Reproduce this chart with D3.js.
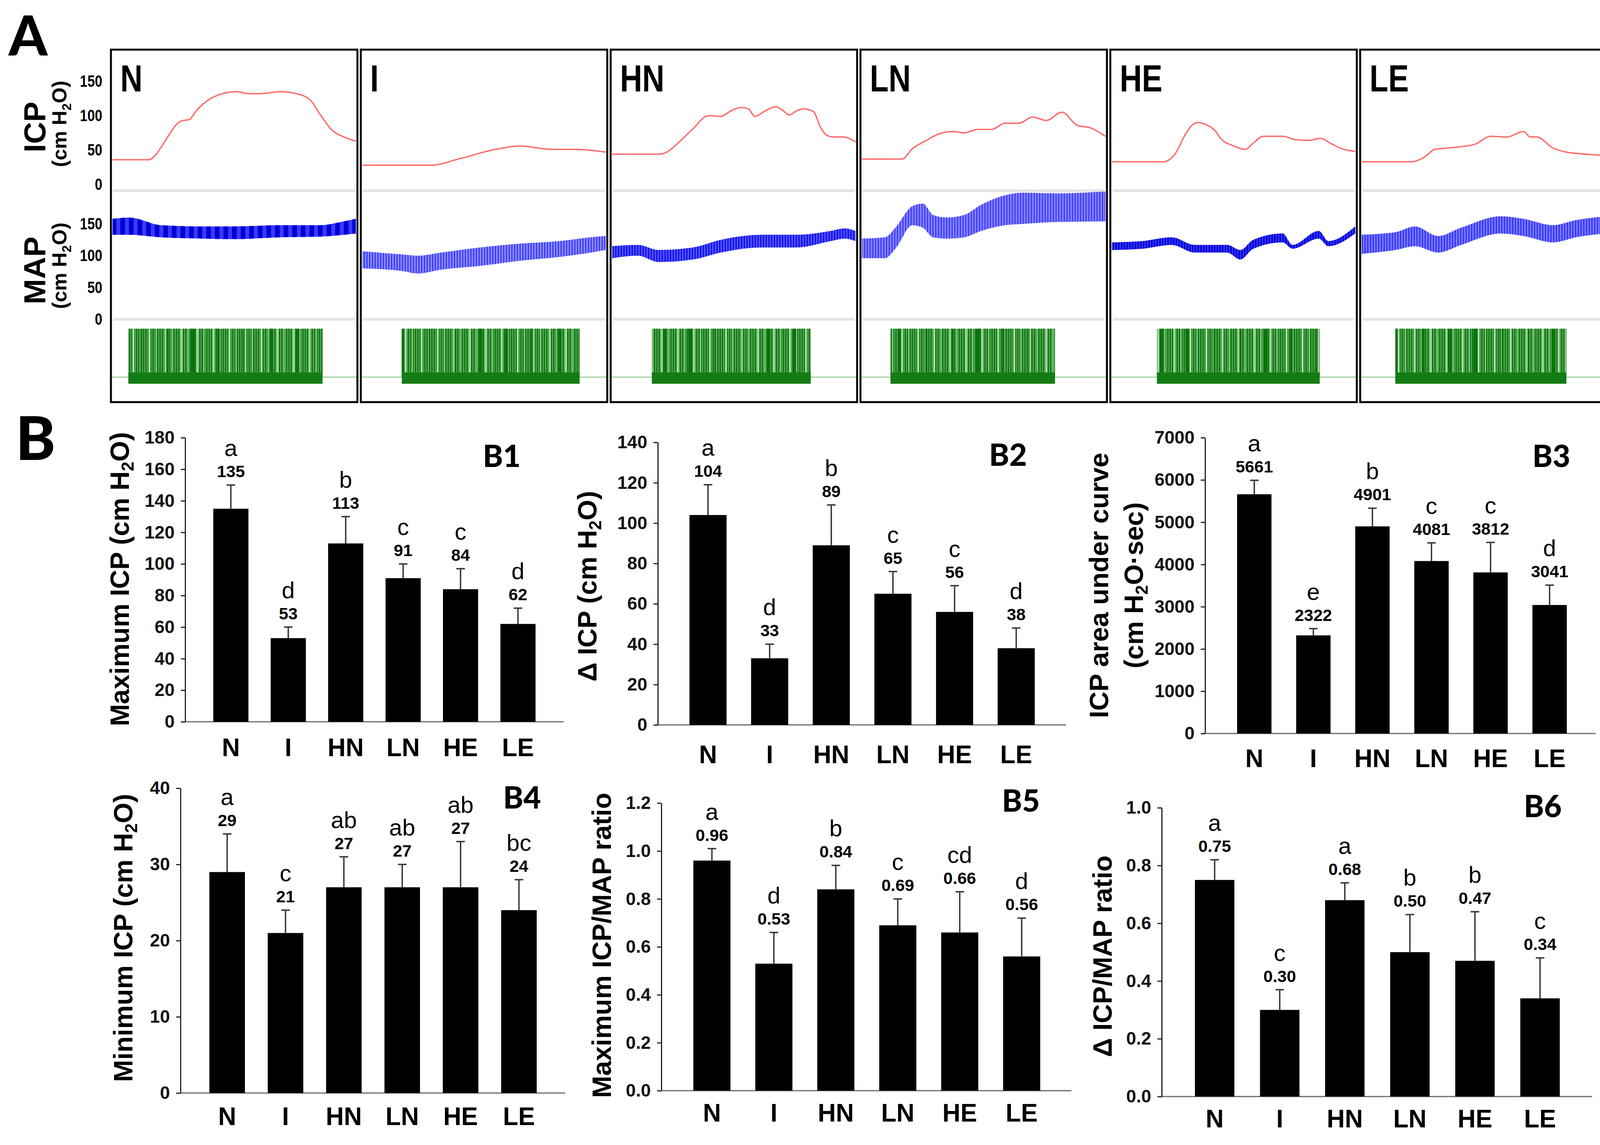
<!DOCTYPE html>
<html>
<head>
<meta charset="utf-8">
<script src="https://cdn.jsdelivr.net/npm/d3@7"></script>
<style>
  body { margin: 0; background: #fff; overflow: hidden; }
  svg { display: block; }
</style>
</head>
<body>
<script>
// ---------- data ----------
var groups = ['N', 'I', 'HN', 'LN', 'HE', 'LE'];

// panel A traces: [time % of window, value cm H2O]
var icpN = [[0,36],[15,36],[17.5,42],[21.6,63],[26.5,88],[28.9,93],[31.4,94],[34.6,108],[39.5,123],[46.1,133],[51,135],[55.9,132],[60.8,132],[69,135],[75.5,132],[81.2,123],[85.3,102],[90.2,79],[95.1,69],[100,63]];
var icpI = [[0,28],[28.3,28],[40.5,38],[53.4,50],[64.7,56],[77.7,51],[87.4,51],[100,47]];
var icpHN = [[0,44],[19.1,44],[21.9,46],[27.6,62],[33.2,81],[39.6,100],[44.6,99],[48.8,107],[53,112],[55.9,110],[58.7,99],[62.9,107],[67.2,113],[70,108],[72.8,101],[75.7,107],[78.5,110],[82.7,106],[85.6,83],[88.4,71],[91.2,69],[94.8,69],[100,62]];
var icpLN = [[0,37],[16.5,37],[20.7,52],[26.4,64],[32,74],[37.7,77],[41.9,75],[47.5,80],[53.2,80],[58.8,89],[64.5,89],[70.1,98],[75.7,93],[82.1,105],[88.4,86],[94.1,82],[100,70]];
var icpHE = [[0,33],[21.2,33],[25.9,44],[29.9,71],[32.6,85],[35.3,90],[39.3,86],[42.7,77],[44.7,67],[50.1,56],[54.8,51],[58.1,60],[62.1,70],[70.2,70],[75.6,65],[80.9,64],[85.6,67],[90.3,59],[94.4,52],[100,48]];
var icpLE = [[0,33],[20.5,33],[25.9,40],[30,51],[35.4,53],[46.2,58],[53,70],[59.7,69],[66.5,77],[69.2,69],[71.9,69],[78.6,53],[84.1,47],[92.2,44],[100,42]];

// MAP band: [time %, upper, lower]
var mapN = [[0,158,133],[6.9,160,133],[19.9,148,129],[36.3,146,127],[49.3,146,126],[69,148,129],[85.3,148,130],[95.1,154,133],[100,158,135]];
var mapI = [[0,107,80],[16.2,102,76],[22.7,100,72],[32.4,105,78],[48.5,113,84],[64.7,119,92],[80.9,123,98],[93.9,129,105],[100,131,109]];
var mapHN = [[0,115,96],[10.6,117,100],[19.1,109,90],[33.2,113,94],[44.6,125,105],[61.5,133,113],[75.7,133,113],[89.8,139,123],[95.5,143,127],[100,139,123]];
var mapLN = [[0,127,96],[9.4,129,96],[13.7,144,111],[20.7,178,148],[25,182,144],[29.2,164,129],[34.8,160,127],[41.9,164,129],[48.9,180,139],[58.8,195,148],[65.9,199,150],[80,198,153],[100,201,154]];
var mapHE = [[0,121,109],[12.5,123,111],[24.6,129,117],[34,117,105],[47.4,117,105],[52.8,109,94],[58.1,125,111],[70.2,135,121],[74.2,117,111],[85,139,127],[89,123,115],[100,146,135]];
var mapLE = [[0,133,103],[13.8,137,109],[21.9,146,115],[31.4,131,105],[40.8,144,117],[57,162,135],[66.5,158,131],[78.6,148,121],[88.1,156,129],[100,162,135]];

// stimulation window (time %)
var stimStart = [6.5, 16.2, 16.3, 11.7, 18.5, 13.8];
var stimEnd = [86.3, 89.3, 81.6, 79.3, 85.4, 84.1];

var icpTicks = [0, 50, 100, 150];
var mapTicks = [0, 50, 100, 150];

// panel B
var maxIcp = [135, 53, 113, 91, 84, 62];
var maxIcpErr = [15, 7, 17, 9, 13, 10];
var maxIcpSig = ['a', 'd', 'b', 'c', 'c', 'd'];

var deltaIcp = [104, 33, 89, 65, 56, 38];
var deltaIcpErr = [15, 7, 20, 11, 13, 10];
var deltaIcpSig = ['a', 'd', 'b', 'c', 'c', 'd'];

var aucIcp = [5661, 2322, 4901, 4081, 3812, 3041];
var aucIcpErr = [330, 160, 430, 430, 710, 470];
var aucIcpSig = ['a', 'e', 'b', 'c', 'c', 'd'];

var minIcp = [29, 21, 27, 27, 27, 24];
var minIcpErr = [5, 3, 4, 3, 6, 4];
var minIcpSig = ['a', 'c', 'ab', 'ab', 'ab', 'bc'];

var maxRatio = [0.96, 0.53, 0.84, 0.69, 0.66, 0.56];
var maxRatioErr = [0.05, 0.13, 0.10, 0.11, 0.17, 0.16];
var maxRatioSig = ['a', 'd', 'b', 'c', 'cd', 'd'];

var deltaRatio = [0.75, 0.30, 0.68, 0.50, 0.47, 0.34];
var deltaRatioErr = [0.07, 0.07, 0.06, 0.13, 0.17, 0.14];
var deltaRatioSig = ['a', 'c', 'a', 'b', 'b', 'c'];

var b1Ticks = [0, 20, 40, 60, 80, 100, 120, 140, 160, 180];
var b2Ticks = [0, 20, 40, 60, 80, 100, 120, 140];
var b3Ticks = [0, 1000, 2000, 3000, 4000, 5000, 6000, 7000];
var b4Ticks = [0, 10, 20, 30, 40];
var b5Ticks = [0, 0.2, 0.4, 0.6, 0.8, 1.0, 1.2];
var b6Ticks = [0, 0.2, 0.4, 0.6, 0.8, 1.0];

// ---------- drawing ----------
var W = 4141, H = 2930;
var sans = 'Liberation Sans, Arial, sans-serif';
var tagFont = 'Lato, Open Sans, sans-serif';

var svg = d3.select('body').append('svg')
    .attr('width', W)
    .attr('height', H)
    .style('font-family', sans);

var defs = svg.append('defs');

var icpTraces = [icpN, icpI, icpHN, icpLN, icpHE, icpLE];
var mapTraces = [mapN, mapI, mapHN, mapLN, mapHE, mapLE];
var mapFill = ['#3a3aff', '#8c8cff', '#5252ff', '#8484ff', '#3030f0', '#7a7aff'];
var mapLine = ['#0000d6', '#3535ff', '#0c0ce8', '#3a3aff', '#0000d0', '#2f2fff'];

// hatch patterns giving the pulsatile look of the pressure traces
mapLine.forEach(function(c, i) {
    var p = defs.append('pattern')
        .attr('id', 'hatch' + i)
        .attr('patternUnits', 'userSpaceOnUse')
        .attr('width', i == 0 ? 22 : 7)
        .attr('height', 20);
    p.append('rect')
        .attr('width', i == 0 ? 12 : 3)
        .attr('height', 20)
        .attr('fill', c);
});

// stimulation spikes: fine stripes plus a couple of coarser ones for the uneven density
var stimPat = defs.append('pattern')
    .attr('id', 'stim')
    .attr('patternUnits', 'userSpaceOnUse')
    .attr('width', 6)
    .attr('height', 10);
stimPat.append('rect').attr('width', 6).attr('height', 10).attr('fill', '#5fae5f');
stimPat.append('rect').attr('width', 3.5).attr('height', 10).attr('fill', '#0d7a0d');
var gapPat = defs.append('pattern')
    .attr('id', 'stimGap')
    .attr('patternUnits', 'userSpaceOnUse')
    .attr('width', 41)
    .attr('height', 10);
gapPat.append('rect').attr('x', 11).attr('width', 5).attr('height', 10).attr('fill', '#ffffff').attr('opacity', 0.6);
gapPat.append('rect').attr('x', 29).attr('width', 3).attr('height', 10).attr('fill', '#ffffff').attr('opacity', 0.45);
var darkPat = defs.append('pattern')
    .attr('id', 'stimDark')
    .attr('patternUnits', 'userSpaceOnUse')
    .attr('width', 67)
    .attr('height', 10);
darkPat.append('rect').attr('x', 20).attr('width', 9).attr('height', 10).attr('fill', '#0a740a');

// big panel letters
svg.append('text').attr('x', 22).attr('y', 142)
    .style('font-family', tagFont).style('font-weight', 900).style('font-size', '142px')
    .text('A');
svg.append('text').attr('x', 40).attr('y', 1177)
    .style('font-family', tagFont).style('font-weight', 900).style('font-size', '154px')
    .text('B');

// ---- panel A ----
var aLeft0 = 284, aStep = 639.6, aW = 631, aTop = 127, aBottom = 1029;
var yIcp = d3.scaleLinear().domain([0, 150]).range([472, 208]);
var yMap = d3.scaleLinear().domain([0, 150]).range([817, 573]);
var stimTop = 841, stimBase = 965, stimLow = 982;

groups.forEach(function(name, i) {
    var left = aLeft0 + i * aStep;
    var xt = d3.scaleLinear().domain([0, 100]).range([left + 4, left + aW - 4]);
    var g = svg.append('g');

    defs.append('clipPath').attr('id', 'clipA' + i)
        .append('rect').attr('x', left).attr('y', aTop).attr('width', aW).attr('height', aBottom - aTop);
    var inner = g.append('g').attr('clip-path', 'url(#clipA' + i + ')');

    // grey zero lines
    [yIcp(0) + 16, yMap(0)].forEach(function(yy) {
        inner.append('line')
            .attr('x1', left + 6).attr('x2', left + aW - 6)
            .attr('y1', yy).attr('y2', yy)
            .attr('stroke', '#e4e4e4').attr('stroke-width', 7);
    });

    // ICP
    inner.append('path')
        .datum(icpTraces[i])
        .attr('d', d3.line().x(function(d) { return xt(d[0]); }).y(function(d) { return yIcp(d[1]); }).curve(d3.curveMonotoneX))
        .attr('fill', 'none')
        .attr('stroke', '#ff6a6a')
        .attr('stroke-width', 3.5);

    // MAP band
    var band = d3.area()
        .x(function(d) { return xt(d[0]); })
        .y0(function(d) { return yMap(d[2]); })
        .y1(function(d) { return yMap(d[1]); })
        .curve(d3.curveMonotoneX);
    inner.append('path').datum(mapTraces[i]).attr('d', band).attr('fill', mapFill[i]);
    inner.append('path').datum(mapTraces[i]).attr('d', band).attr('fill', 'url(#hatch' + i + ')');

    // stimulation
    var sx = xt(stimStart[i]), sw = xt(stimEnd[i]) - xt(stimStart[i]);
    inner.append('line')
        .attr('x1', left).attr('x2', left + aW)
        .attr('y1', stimBase).attr('y2', stimBase)
        .attr('stroke', '#9ad39a').attr('stroke-width', 3);
    ['url(#stim)', 'url(#stimDark)', 'url(#stimGap)'].forEach(function(f) {
        inner.append('rect')
            .attr('x', sx).attr('y', stimTop)
            .attr('width', sw).attr('height', stimBase - stimTop)
            .attr('fill', f);
    });
    inner.append('rect')
        .attr('x', sx).attr('y', stimBase - 12)
        .attr('width', sw)
        .attr('height', stimLow - stimBase + 12)
        .attr('fill', '#147c14');

    // frame
    g.append('rect')
        .attr('x', left).attr('y', aTop)
        .attr('width', aW).attr('height', aBottom - aTop)
        .attr('fill', 'none').attr('stroke', '#000').attr('stroke-width', 5);

    g.append('text')
        .attr('transform', 'translate(' + (left + 24) + ',234) scale(0.82,1)')
        .style('font-weight', 'bold').style('font-size', '96px')
        .text(name);
});

// panel A y axes
function aAxis(scale, ticks) {
    var ax = svg.append('g')
        .attr('transform', 'translate(262,0)')
        .call(d3.axisLeft(scale).tickValues(ticks).tickSize(0).tickPadding(0));
    ax.select('.domain').remove();
    ax.selectAll('text')
        .attr('transform', 'scale(0.82,1)')
        .style('font-family', sans)
        .style('font-weight', 'bold')
        .style('font-size', '42px');
}
aAxis(yIcp, icpTicks);
aAxis(yMap, mapTicks);

function h2oLabel(sel, pre, post) {
    sel.append('tspan').text(pre + 'H');
    sel.append('tspan').attr('dy', 12).style('font-size', '0.65em').text('2');
    sel.append('tspan').attr('dy', -12).text('O' + post);
}

[['ICP', 325, 317], ['MAP', 692, 680]].forEach(function(r) {
    svg.append('text')
        .attr('transform', 'translate(116,' + r[1] + ') rotate(-90)')
        .attr('text-anchor', 'middle')
        .style('font-weight', 'bold').style('font-size', '78px')
        .text(r[0]);
    var t = svg.append('text')
        .attr('transform', 'translate(170,' + r[2] + ') rotate(-90)')
        .attr('text-anchor', 'middle')
        .style('font-weight', 'bold').style('font-size', '52px');
    h2oLabel(t, '(cm ', ')');
});

// ---- panel B ----
function barChart(cfg) {
    var g = svg.append('g');
    var gap = cfg.step - cfg.barW;
    var x = d3.scaleBand()
        .domain(groups)
        .range([cfg.barX0 - gap / 2, cfg.barX0 - gap / 2 + groups.length * cfg.step])
        .paddingInner(gap / cfg.step)
        .paddingOuter(gap / cfg.step / 2);
    var y = d3.scaleLinear()
        .domain([0, cfg.ticks[cfg.ticks.length - 1]])
        .range([cfg.yZero, cfg.yTop]);

    var rows = groups.map(function(k, i) {
        return { name: k, v: cfg.values[i], e: cfg.errs[i], sig: cfg.sig[i] };
    });
    var mid = function(d) { return x(d.name) + x.bandwidth() / 2; };

    // x axis line
    g.append('line')
        .attr('x1', cfg.axisX).attr('x2', cfg.axisEnd)
        .attr('y1', cfg.yZero).attr('y2', cfg.yZero)
        .attr('stroke', '#6a6a6a').attr('stroke-width', 3);

    var ax = g.append('g')
        .attr('transform', 'translate(' + cfg.axisX + ',0)')
        .call(d3.axisLeft(y).tickValues(cfg.ticks).tickFormat(cfg.fmt).tickSize(11).tickSizeOuter(0).tickPadding(16));
    ax.selectAll('line, path').attr('stroke', '#222').attr('stroke-width', 3);
    ax.selectAll('text')
        .style('font-family', sans)
        .style('font-weight', 'bold')
        .style('font-size', '46px')
        .attr('fill', '#111');

    g.selectAll('.bar').data(rows).enter().append('rect')
        .attr('x', function(d) { return x(d.name); })
        .attr('width', x.bandwidth())
        .attr('y', function(d) { return y(d.v); })
        .attr('height', function(d) { return y(0) - y(d.v); })
        .attr('fill', '#000');

    // error bars (upper only)
    g.selectAll('.err').data(rows).enter().append('line')
        .attr('x1', mid).attr('x2', mid)
        .attr('y1', function(d) { return y(d.v); })
        .attr('y2', function(d) { return y(d.v + d.e); })
        .attr('stroke', '#333').attr('stroke-width', 3.5);
    g.selectAll('.cap').data(rows).enter().append('line')
        .attr('x1', function(d) { return mid(d) - 11; })
        .attr('x2', function(d) { return mid(d) + 11; })
        .attr('y1', function(d) { return y(d.v + d.e); })
        .attr('y2', function(d) { return y(d.v + d.e); })
        .attr('stroke', '#333').attr('stroke-width', 3.5);

    g.selectAll('.val').data(rows).enter().append('text')
        .attr('x', mid)
        .attr('y', function(d) { return y(d.v + d.e) - 20; })
        .attr('text-anchor', 'middle')
        .style('font-weight', 'bold').style('font-size', '43px')
        .text(function(d) { return cfg.valFmt(d.v); });
    g.selectAll('.sig').data(rows).enter().append('text')
        .attr('x', mid)
        .attr('y', function(d) { return y(d.v + d.e) - 74; })
        .attr('text-anchor', 'middle')
        .style('font-size', '60px')
        .text(function(d) { return d.sig; });

    g.selectAll('.cat').data(rows).enter().append('text')
        .attr('x', mid)
        .attr('y', cfg.labelY)
        .attr('text-anchor', 'middle')
        .style('font-weight', 'bold').style('font-size', '64px')
        .text(function(d) { return d.name; });

    // y title (one or two lines)
    cfg.title.forEach(function(line, k) {
        var t = g.append('text')
            .attr('transform', 'translate(' + cfg.titleX[k] + ',' + cfg.titleY + ') rotate(-90)')
            .attr('text-anchor', 'middle')
            .style('font-weight', 'bold').style('font-size', '68px');
        if (line.length == 3) h2oLabel(t, line[0], line[2]);
        else t.text(line[0]);
    });

    g.append('text')
        .attr('x', cfg.tagX).attr('y', cfg.tagY)
        .style('font-family', tagFont).style('font-weight', 900).style('font-size', '78px')
        .text(cfg.tag);
}

var int = d3.format('d');
var one = d3.format('.1f');
var two = d3.format('.2f');

barChart({ tag: 'B1', tagX: 1236, tagY: 1195, values: maxIcp, errs: maxIcpErr, sig: maxIcpSig,
    ticks: b1Ticks, fmt: int, valFmt: int,
    axisX: 474, axisEnd: 1443, yZero: 1847, yTop: 1120, barX0: 546, step: 147, barW: 90, labelY: 1935,
    title: [['Maximum ICP (cm ', 'H', ')']], titleX: [330], titleY: 1482 });

barChart({ tag: 'B2', tagX: 2532, tagY: 1192, values: deltaIcp, errs: deltaIcpErr, sig: deltaIcpSig,
    ticks: b2Ticks, fmt: int, valFmt: int,
    axisX: 1684, axisEnd: 2729, yZero: 1855, yTop: 1132, barX0: 1765, step: 157.8, barW: 95, labelY: 1953,
    title: [['\u0394 ICP (cm ', 'H', ')']], titleX: [1527], titleY: 1500 });

barChart({ tag: 'B3', tagX: 3923, tagY: 1195, values: aucIcp, errs: aucIcpErr, sig: aucIcpSig,
    ticks: b3Ticks, fmt: int, valFmt: int,
    axisX: 3085, axisEnd: 4085, yZero: 1877, yTop: 1120, barX0: 3167, step: 151.2, barW: 88, labelY: 1963,
    title: [['ICP area under curve'], ['(cm ', 'H', '\u00b7sec)']], titleX: [2837, 2926], titleY: 1498 });

barChart({ tag: 'B4', tagX: 1288, tagY: 2069, values: minIcp, errs: minIcpErr, sig: minIcpSig,
    ticks: b4Ticks, fmt: int, valFmt: int,
    axisX: 462, axisEnd: 1447, yZero: 2797, yTop: 2017, barX0: 536, step: 149.4, barW: 91, labelY: 2879,
    title: [['Minimum ICP (cm ', 'H', ')']], titleX: [339], titleY: 2400 });

barChart({ tag: 'B5', tagX: 2565, tagY: 2077, values: maxRatio, errs: maxRatioErr, sig: maxRatioSig,
    ticks: b5Ticks, fmt: one, valFmt: two,
    axisX: 1693, axisEnd: 2743, yZero: 2791, yTop: 2055, barX0: 1775, step: 158.6, barW: 95, labelY: 2870,
    title: [['Maximum ICP/MAP ratio']], titleX: [1564], titleY: 2419 });

barChart({ tag: 'B6', tagX: 3901, tagY: 2091, values: deltaRatio, errs: deltaRatioErr, sig: deltaRatioSig,
    ticks: b6Ticks, fmt: one, valFmt: two,
    axisX: 2974, axisEnd: 4076, yZero: 2806, yTop: 2067, barX0: 3059, step: 166.6, barW: 101, labelY: 2885,
    title: [['\u0394 ICP/MAP ratio']], titleX: [2846], titleY: 2447 });
</script>
</body>
</html>
